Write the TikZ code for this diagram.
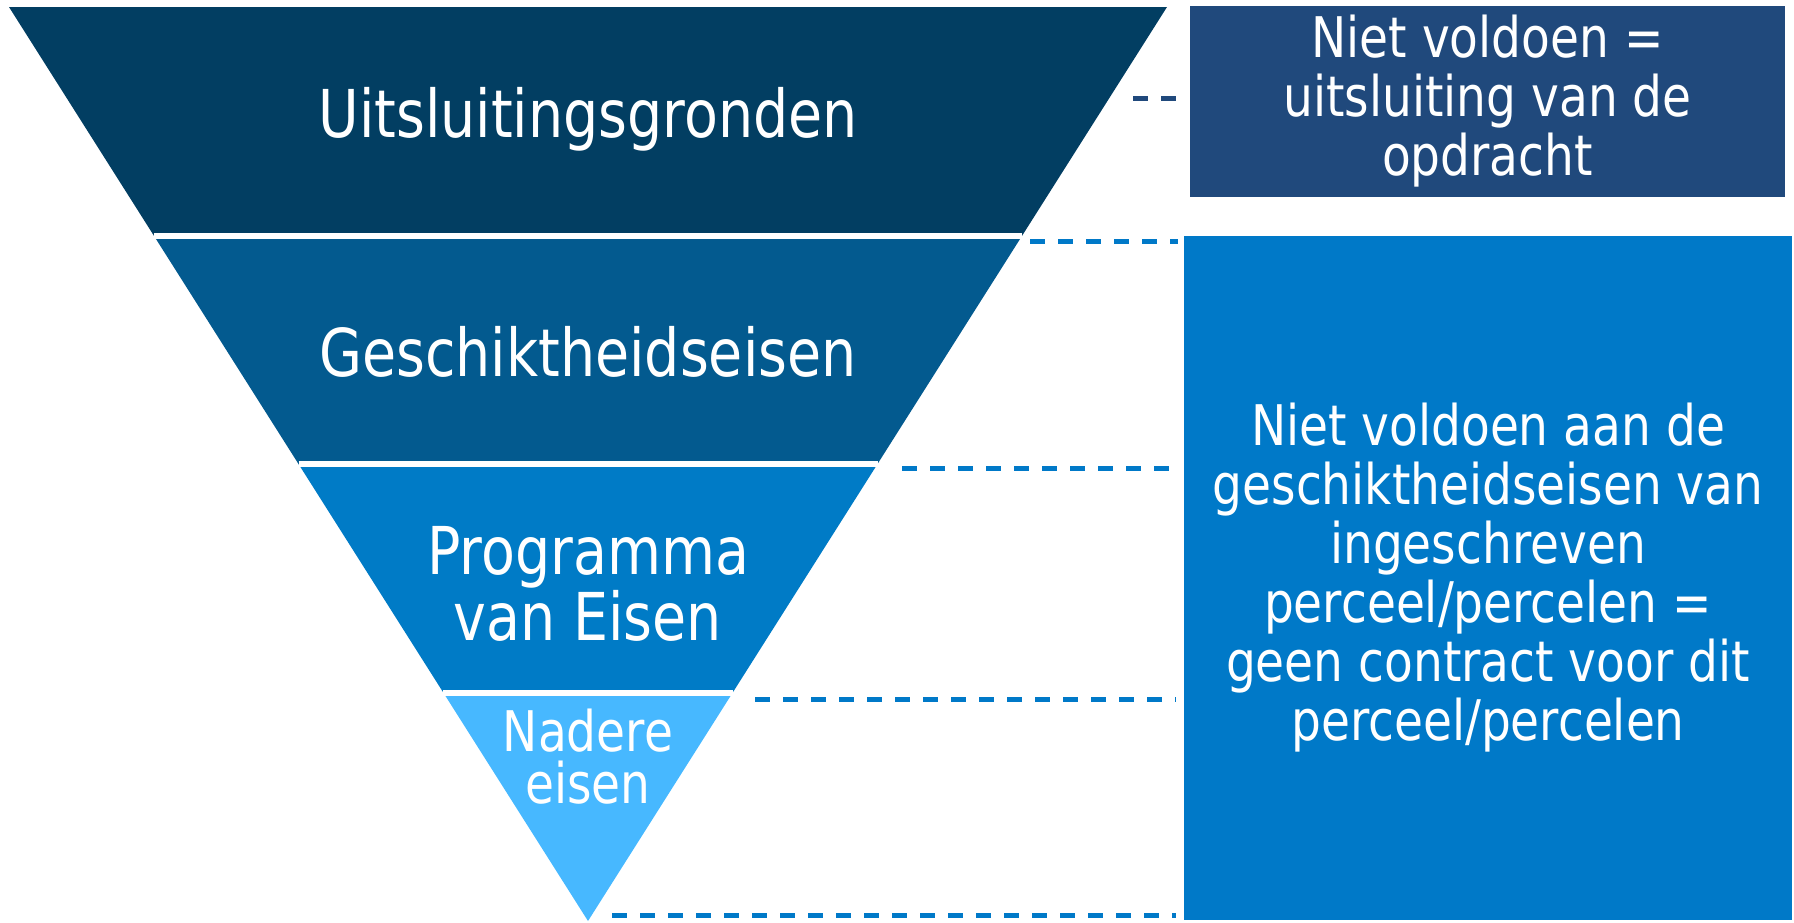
\documentclass[tikz,border=0pt]{standalone}
\usepackage{fontspec}
\newfontfamily\diagfont[FakeStretch=0.84]{DejaVu Sans}
\usetikzlibrary{calc, positioning}
\definecolor{bandA}{HTML}{023E62}
\definecolor{bandB}{HTML}{035A8F}
\definecolor{bandC}{HTML}{007BC6}
\definecolor{bandD}{HTML}{47B8FF}
\definecolor{noteA}{HTML}{20497C}
\definecolor{noteB}{HTML}{0079C8}
\tikzset{
	layer/.style={text=white, align=center, inner sep=0pt, font=\diagfont\fontsize{33}{30}\selectfont},
	small layer/.style={layer, font=\diagfont\fontsize{28}{26}\selectfont},
	note/.style={text=white, align=center, inner sep=0pt, font=\diagfont\fontsize{28}{29.5}\selectfont},
	% white gap between the layers
	gap/.style={white, line width=3pt},
	link/.style={line width=2.5pt, dash pattern=on 7.5pt off 6.5pt},
}

\begin{document}
\begin{tikzpicture}[x=0.5pt, y=-0.5pt]
			\useasboundingbox (0,0) rectangle (1794,922);
			
			\coordinate (tl) at (9,7);
			\coordinate (tr) at (1167,7);
			\coordinate (apex) at (588,921);
			
			\fill[bandA] (tl) -- (tr) -- ($(tr)!.25!(apex)$) -- ($(tl)!.25!(apex)$) -- cycle;
			\fill[bandB] ($(tl)!.25!(apex)$) -- ($(tr)!.25!(apex)$) -- ($(tr)!.5!(apex)$) -- ($(tl)!.5!(apex)$) -- cycle;
			\fill[bandC] ($(tl)!.5!(apex)$) -- ($(tr)!.5!(apex)$) -- ($(tr)!.75!(apex)$) -- ($(tl)!.75!(apex)$) -- cycle;
			\fill[bandD] ($(tl)!.75!(apex)$) -- ($(tr)!.75!(apex)$) -- (apex) -- cycle;
			
			\draw[gap] ($(tl)!.25!(apex)$) -- ($(tr)!.25!(apex)$);
			\draw[gap] ($(tl)!.5!(apex)$) -- ($(tr)!.5!(apex)$);
			\draw[gap] ($(tl)!.75!(apex)$) -- ($(tr)!.75!(apex)$);
			
			\node (uitsl) [layer] at (588,119) {Uitsluitingsgronden};
			\node (geschikt) [layer] at (588,352) {Geschiktheidseisen};
			\node (pve) [layer] at (588,584) {Programma\\van Eisen};
			\node (nadere) [small layer] at (588,757) {Nadere\\eisen};
			
			\node (nietA) [note, fill=noteA, minimum width=297.5pt, minimum height=95.5pt] at (1487.5,101.5) {Niet voldoen =\\uitsluiting van de\\opdracht};
			\node (nietB) [note, fill=noteB, minimum width=304pt, minimum height=342pt] at (1488,578) {Niet voldoen aan de\\geschiktheidseisen van\\ingeschreven\\perceel/percelen =\\geen contract voor dit\\perceel/percelen};
			
			\coordinate (d1) at (1133,98);
			\coordinate (d2) at (1030,241);
			\coordinate (d3) at (902,468);
			\coordinate (d4) at (755,699);
			\coordinate (d5) at (612,915);
			
			\begin{scope}[link]
				\draw[noteA, shorten >=7pt] (d1) -- (d1 -| nietA.west);
				\draw[noteB, shorten >=3pt] (d2) -- (d2 -| nietB.west);
				\draw[noteB, shorten >=7pt] (d3) -- (d3 -| nietB.west);
				\draw[noteB, shorten >=4pt] (d4) -- (d4 -| nietB.west);
				\draw[noteB, shorten >=4pt] (d5) -- (d5 -| nietB.west);
			\end{scope}
			
\end{tikzpicture}
\end{document}
